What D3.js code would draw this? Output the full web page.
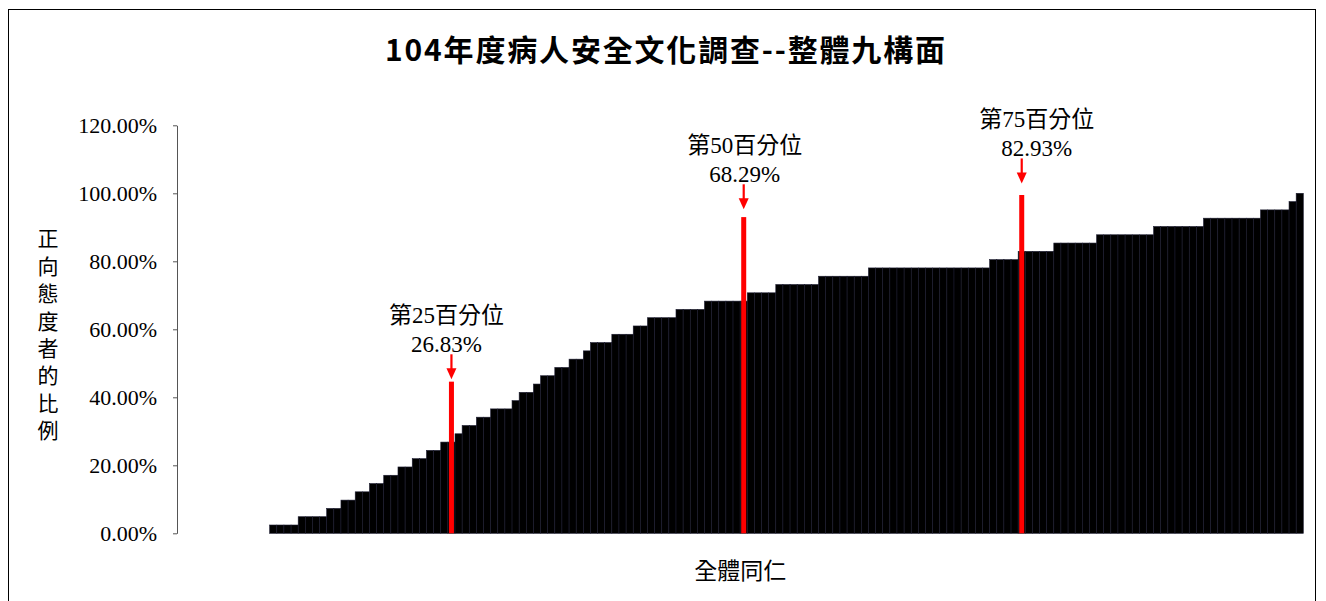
<!DOCTYPE html>
<html>
<head>
<meta charset="utf-8">
<script src="https://cdn.jsdelivr.net/npm/d3@7"></script>
<style>
	body { margin: 0; background: #fff; }
	svg { display: block; }
</style>
</head>
<body>
<svg id="chart" width="1326" height="601"></svg>
<script>
//values, sorted ascending (% of positive answers per staff member)
const positiveRate = [
	0, 0, 0, 0, 0, 0, 0, 0, 0, 0, 0, 0, 0,
	2.44, 2.44, 2.44, 2.44,
	4.88, 4.88, 4.88, 4.88,
	7.32, 7.32, 9.76, 9.76, 12.2, 12.2, 14.63, 14.63,
	17.07, 17.07, 19.51, 19.51, 21.95, 21.95, 24.39, 24.39,
	26.83, 26.83, 29.27, 31.71, 31.71, 34.15, 34.15,
	36.59, 36.59, 36.59, 39.02, 41.46, 41.46, 43.9,
	46.34, 46.34, 48.78, 48.78, 51.22, 51.22, 53.66,
	56.1, 56.1, 56.1, 58.54, 58.54, 58.54, 60.98, 60.98,
	63.41, 63.41, 63.41, 63.41,
	65.85, 65.85, 65.85, 65.85,
	68.29, 68.29, 68.29, 68.29, 68.29, 68.29,
	70.73, 70.73, 70.73, 70.73,
	73.17, 73.17, 73.17, 73.17, 73.17, 73.17,
	75.61, 75.61, 75.61, 75.61, 75.61, 75.61, 75.61,
	78.05, 78.05, 78.05, 78.05, 78.05, 78.05, 78.05, 78.05, 78.05,
	78.05, 78.05, 78.05, 78.05, 78.05, 78.05, 78.05, 78.05,
	80.49, 80.49, 80.49, 80.49,
	82.93, 82.93, 82.93, 82.93, 82.93,
	85.37, 85.37, 85.37, 85.37, 85.37, 85.37,
	87.8, 87.8, 87.8, 87.8, 87.8, 87.8, 87.8, 87.8,
	90.24, 90.24, 90.24, 90.24, 90.24, 90.24, 90.24,
	92.68, 92.68, 92.68, 92.68, 92.68, 92.68, 92.68, 92.68,
	95.12, 95.12, 95.12, 95.12,
	97.56,
	100
];
const staff = positiveRate.map((d, i) => i);

//percentile markers
const pctNames = ['第25百分位', '第50百分位', '第75百分位'];
const pctTexts = ['26.83%', '68.29%', '82.93%'];
const pctIndex = [38, 79, 118];
const pctLineTop = [44.6, 93.0, 99.5];
const pctArrowTip = [45.3, 95.3, 102.9];

const yTicks = [0, 20, 40, 60, 80, 100, 120];

const titleText = '104年度病人安全文化調查--整體九構面';
const yTitle = '正向態度者的比例';
const xTitle = '全體同仁';

//=========================================================================================

const svg = d3.select('#chart');
const latin = '"Liberation Serif", "Noto Sans CJK TC", serif';

const //
	plotLeft = 177,
	plotRight = 1303.3,
	plotTop = 125.3,
	plotBottom = 533.3;

const x = d3.scaleBand().domain(staff).range([plotLeft, plotRight]).padding(0);
const y = d3.scaleLinear().domain([0, 120]).range([plotBottom, plotTop]);

//chart frame
svg.append('rect')
	.attr('x', 8.5).attr('y', 9.5)
	.attr('width', 1307).attr('height', 620)
	.attr('fill', '#fff')
	.attr('stroke', '#000')
	.attr('stroke-width', 1);

//title
svg.append('text')
	.attr('x', 665).attr('y', 61)
	.attr('text-anchor', 'middle')
	.attr('font-family', '"Noto Sans CJK TC", sans-serif')
	.attr('font-weight', 'bold')
	.attr('font-size', 30)
	.attr('textLength', 560)
	.attr('lengthAdjust', 'spacing')
	.text(titleText);

//bars
svg.append('g')
	.selectAll('rect')
	.data(staff.filter(i => positiveRate[i] > 0))
	.join('rect')
	.attr('x', i => x(i))
	.attr('y', i => y(positiveRate[i]))
	.attr('width', x.bandwidth())
	.attr('height', i => y(0) - y(positiveRate[i]))
	.attr('fill', '#000')
	.attr('stroke', '#1c1c30')
	.attr('stroke-width', 0.6);

//percentile lines + arrows + labels
const labelDx = [-5, 1, 15];
pctIndex.forEach((idx, k) => {
	const cx = x(idx) + x.bandwidth() / 2;
	const tip = y(pctArrowTip[k]);

	svg.append('rect')
		.attr('x', cx - 2.5).attr('y', y(pctLineTop[k]))
		.attr('width', 5).attr('height', y(0) - y(pctLineTop[k]))
		.attr('fill', '#ff0000');

	svg.append('line')
		.attr('x1', cx).attr('x2', cx)
		.attr('y1', tip - 25).attr('y2', tip - 9)
		.attr('stroke', '#ff0000').attr('stroke-width', 2.2);
	svg.append('path')
		.attr('d', `M ${cx - 5} ${tip - 11} L ${cx + 5} ${tip - 11} L ${cx} ${tip} Z`)
		.attr('fill', '#ff0000');

	const lx = cx + labelDx[k];
	svg.append('text')
		.attr('x', lx).attr('y', tip - 64).attr('dy', '0.35em')
		.attr('text-anchor', 'middle')
		.attr('font-family', latin).attr('font-size', 23)
		.text(pctNames[k]);
	svg.append('text')
		.attr('x', lx).attr('y', tip - 35).attr('dy', '0.35em')
		.attr('text-anchor', 'middle')
		.attr('font-family', latin).attr('font-size', 23)
		.text(pctTexts[k]);
});

//y axis
const yAxis = svg.append('g')
	.attr('transform', `translate(${plotLeft},0)`)
	.call(d3.axisLeft(y).tickValues(yTicks).tickSize(4).tickSizeOuter(0).tickPadding(16)
		.tickFormat(d => d.toFixed(2) + '%'));
yAxis.select('.domain').attr('stroke', '#555');
yAxis.selectAll('.tick line').attr('stroke', '#555');
yAxis.selectAll('.tick text')
	.attr('font-family', latin)
	.attr('font-size', 22)
	.attr('fill', '#000');

//y axis title, one character per line
const yt = svg.append('text')
	.attr('x', 48).attr('y', 239)
	.attr('text-anchor', 'middle')
	.attr('font-family', '"Noto Sans CJK TC", sans-serif')
	.attr('font-size', 21);
yt.selectAll('tspan')
	.data(Array.from(yTitle))
	.join('tspan')
	.attr('x', 48)
	.attr('dy', (d, i) => (i === 0 ? '0.35em' : 27.4))
	.text(d => d);

//x axis title
svg.append('text')
	.attr('x', (plotLeft + plotRight) / 2).attr('y', 571).attr('dy', '0.35em')
	.attr('text-anchor', 'middle')
	.attr('font-family', '"Noto Sans CJK TC", sans-serif')
	.attr('font-size', 23)
	.text(xTitle);
</script>
</body>
</html>
